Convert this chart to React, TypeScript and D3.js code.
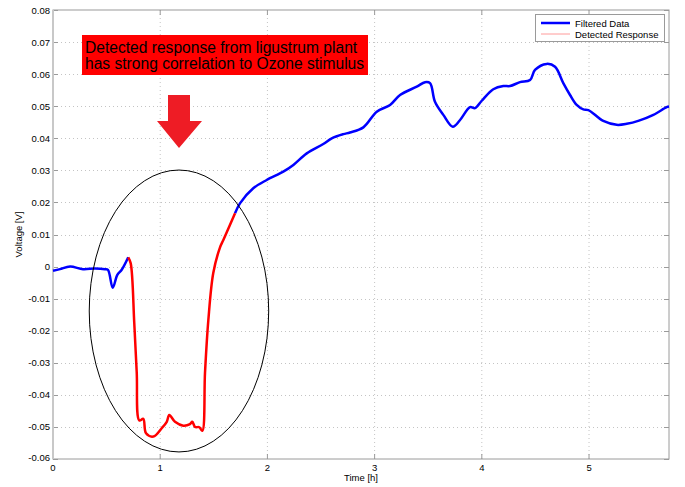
import React from "react";
import * as d3 from "d3";

const blueStartT = [0, 0.065, 0.159, 0.28, 0.392, 0.485, 0.513, 0.557, 0.6, 0.641, 0.702];
const blueStartV = [-0.0013, -0.0008, 0.0, -0.0008, -0.0006, -0.0008, -0.001, -0.0066, -0.0026, -0.001, 0.0029];

const redT = [0.702, 0.725, 0.758, 0.781, 0.805, 0.842, 0.868, 0.936, 1.014, 1.061, 1.085, 1.138, 1.215, 1.278, 1.299, 1.325, 1.365, 1.393, 1.418, 1.449, 1.495, 1.558, 1.589, 1.698];
const redV = [0.0029, 0.001, -0.0176, -0.033, -0.048, -0.0475, -0.052, -0.053, -0.0504, -0.0484, -0.0463, -0.0484, -0.0496, -0.0491, -0.0484, -0.05, -0.0501, -0.0512, -0.033, -0.0167, -0.002, 0.006, 0.0083, 0.0166];

const blueEndT = [1.698, 1.744, 1.868, 1.993, 2.148, 2.242, 2.367, 2.521, 2.6, 2.708, 2.77, 2.895, 3.02, 3.144, 3.237, 3.393, 3.47, 3.517, 3.563, 3.641, 3.729, 3.797, 3.89, 3.937, 3.999, 4.107, 4.201, 4.263, 4.356, 4.45, 4.496, 4.605, 4.683, 4.76, 4.823, 4.885, 4.947, 4.994, 5.133, 5.258, 5.352, 5.466, 5.6, 5.724, 5.746];
const blueEndV = [0.0166, 0.0197, 0.0244, 0.027, 0.0296, 0.0317, 0.0353, 0.0382, 0.04, 0.0413, 0.0418, 0.0434, 0.0483, 0.0504, 0.0535, 0.0561, 0.0575, 0.0572, 0.0514, 0.0473, 0.0436, 0.0457, 0.0497, 0.0494, 0.0517, 0.0553, 0.0563, 0.0563, 0.0575, 0.0582, 0.0613, 0.0632, 0.0623, 0.0572, 0.0535, 0.0504, 0.049, 0.0488, 0.0454, 0.0442, 0.0445, 0.0455, 0.0473, 0.0497, 0.0499];

const xTicks = [0, 1, 2, 3, 4, 5];
const yTicks = [-0.06, -0.05, -0.04, -0.03, -0.02, -0.01, 0, 0.01, 0.02, 0.03, 0.04, 0.05, 0.06, 0.07, 0.08];
const yTickLabels = ["-0.06", "-0.05", "-0.04", "-0.03", "-0.02", "-0.01", "0", "0.01", "0.02", "0.03", "0.04", "0.05", "0.06", "0.07", "0.08"];
const legendLabels = ["Filtered Data", "Detected Response"];
const annotationLines = ["Detected response from ligustrum plant", "has strong correlation to Ozone stimulus"];
const xLabel = "Time [h]";
const yLabel = "Voltage [V]";

const W = 685, H = 487;
const L = 53, R = 669, T = 10, B = 459;

export default function App() {
  const x = d3.scaleLinear().domain([0, 5.746]).range([L, R]);
  const y = d3.scaleLinear().domain([-0.06, 0.08]).range([B, T]);
  const line = d3.line<[number, number]>().x(d => x(d[0])).y(d => y(d[1])).curve(d3.curveCatmullRom.alpha(0.5));
  const zip = (a: number[], b: number[]) => a.map((t, i) => [t, b[i]] as [number, number]);
  const font = "'Liberation Sans', Arial, sans-serif";
  const axisColor = "#9a9a9a";
  const gridColor = "#c4c4c4";

  // ellipse in data coords
  const ecx = x(1.175), ecy = y(-0.01385);
  const erx = x(1.175) - x(0.338), ery = y(-0.01385) - y(0.0301);

  return (
    <div style={{ position: "absolute", left: 0, top: 0 }}>
      <svg width={W} height={H} style={{ display: "block", background: "#fff" }} fontFamily={font}>
        <rect x={0} y={0} width={W} height={H} fill="#fff" />
        {/* grid */}
        {xTicks.slice(1).map(t => (
          <line key={"gx" + t} x1={x(t)} x2={x(t)} y1={T} y2={B} stroke={gridColor} strokeWidth={1} strokeDasharray="1,3" />
        ))}
        {yTicks.slice(1, -1).map(v => (
          <line key={"gy" + v} x1={L} x2={R} y1={Math.round(y(v)) + 0.5} y2={Math.round(y(v)) + 0.5} stroke={gridColor} strokeWidth={1} strokeDasharray="1,3" />
        ))}
        {/* ticks */}
        {xTicks.slice(1).map(t => (
          <g key={"tx" + t}>
            <line x1={x(t)} x2={x(t)} y1={B} y2={B - 5} stroke={axisColor} />
            <line x1={x(t)} x2={x(t)} y1={T} y2={T + 5} stroke={axisColor} />
          </g>
        ))}
        {yTicks.map(v => (
          <g key={"ty" + v}>
            <line x1={L} x2={L + 5} y1={Math.round(y(v)) + 0.5} y2={Math.round(y(v)) + 0.5} stroke={axisColor} />
            <line x1={R} x2={R - 5} y1={Math.round(y(v)) + 0.5} y2={Math.round(y(v)) + 0.5} stroke={axisColor} />
          </g>
        ))}
        {/* box */}
        <rect x={L} y={T} width={R - L} height={B - T} fill="none" stroke={axisColor} strokeWidth={1} />
        <line x1={L} x2={L} y1={T} y2={B} stroke="#c8c8c8" strokeWidth={2} />
        {/* tick labels */}
        {xTicks.map(t => (
          <text key={"lx" + t} x={x(t)} y={B + 12} fontSize={9.5} textAnchor="middle" fill="#000">{t}</text>
        ))}
        {yTicks.map((v, i) => (
          <text key={"ly" + v} x={L - 3} y={y(v) + 3.5 - (i === 0 ? 2 : 0)} fontSize={9.5} textAnchor="end" fill="#000">{yTickLabels[i]}</text>
        ))}
        <text x={(L + R) / 2} y={481} fontSize={9.5} textAnchor="middle">{xLabel}</text>
        <text transform={`translate(22,${(T + B) / 2}) rotate(-90)`} fontSize={9.5} textAnchor="middle">{yLabel}</text>

        {/* data */}
        <path d={line(zip(blueStartT, blueStartV)) || ""} fill="none" stroke="#0000ff" strokeWidth={2.5} strokeLinejoin="round" />
        <path d={line(zip(blueEndT, blueEndV)) || ""} fill="none" stroke="#0000ff" strokeWidth={2.5} strokeLinejoin="round" />
        <path d={line(zip(redT, redV)) || ""} fill="none" stroke="#ff0000" strokeWidth={2.5} strokeLinejoin="round" />

        {/* ellipse */}
        <ellipse cx={ecx} cy={ecy} rx={erx} ry={ery} fill="none" stroke="#000" strokeWidth={1} />

        {/* annotation */}
        <rect x={82} y={35} width={286} height={40} fill="#ff0000" />
        <text x={85} y={53} fontSize={15.6} fill="#000">{annotationLines[0]}</text>
        <text x={85} y={69} fontSize={15.6} fill="#000">{annotationLines[1]}</text>

        {/* arrow */}
        <path d="M168,95 L190,95 L190,121 L202,121 L179,148 L157,121 L168,121 Z" fill="#ee1c25" />

        {/* legend */}
        <rect x={535.5} y={14.5} width={129} height={27} fill="#fff" stroke={axisColor} />
        <line x1={541} x2={570} y1={23} y2={23} stroke="#0000ff" strokeWidth={2.5} />
        <line x1={541} x2={570} y1={34} y2={34} stroke="#ff9a9a" strokeWidth={1} />
        <text x={575} y={26.5} fontSize={9.5}>{legendLabels[0]}</text>
        <text x={575} y={37.5} fontSize={9.5}>{legendLabels[1]}</text>
      </svg>
    </div>
  );
}
